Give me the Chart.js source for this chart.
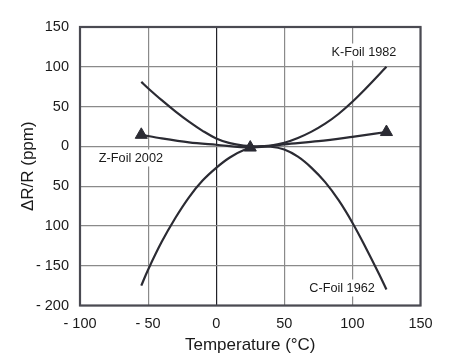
<!DOCTYPE html>
<html>
<head>
<meta charset="utf-8">
<script src="https://cdn.jsdelivr.net/npm/chart.js@4/dist/chart.umd.min.js"></script>
<style>
  html, body { margin: 0; padding: 0; background: #ffffff; }
  #wrap { width: 468px; height: 357px; }
</style>
</head>
<body>
<div id="wrap"><canvas id="c" width="468" height="357"></canvas></div>
<script>
// ---- Data ----
const kFoilTemps = [-55, -50, -40, -30, -20, -10, 0, 10, 20, 30, 40, 50, 60, 70, 80, 90, 100, 110, 120, 125];
const kFoilPpm   = [81, 73, 58, 44, 31, 19.5, 10, 4, 1, 0, 1, 4.5, 10.5, 18.5, 28.5, 41, 56, 73, 91, 100];

const cFoilTemps = [-55, -50, -40, -30, -20, -10, 0, 10, 20, 30, 40, 50, 60, 70, 80, 90, 100, 110, 120, 125];
const cFoilPpm   = [-175, -155, -120, -90, -64, -43, -27, -14, -5, -0.5, -0.5, -4, -13, -27, -45, -68, -96, -128, -162, -180];

const zFoilTemps = [-55, -40, -20, 0, 25, 40, 50, 75, 100, 125];
const zFoilPpm   = [14.5, 10, 5, 2, -1.5, 0.5, 2.5, 6.5, 12, 18];
const zFoilMarkerTemps = [-55, 25, 125];

const seriesNames = ['K-Foil 1982', 'C-Foil 1962', 'Z-Foil 2002'];
// label anchor positions in data units (temperature, ppm)
const labelTemps = [108.5, 92.4, -62.6];
const labelPpm   = [118.6, -178, -14.6];

const xTickValues = [-100, -50, 0, 50, 100, 150];
const xTickLabels = ['- 100', '- 50', '0', '50', '100', '150'];
const yTickValues = [-200, -150, -100, -50, 0, 50, 100, 150];
const yTickLabels = ['- 200', '- 150', '100', '50', '0', '50', '100', '150'];

const xTitle = 'Temperature (°C)';
const yTitle = 'ΔR/R (ppm)';

// ---- Chart ----
const FONT = "'Liberation Sans', Arial, Helvetica, sans-serif";
const LINE = '#2b2b33';

function pts(xs, ys) { return xs.map((x, i) => ({ x: x, y: ys[i] })); }

const frameAndLabels = {
  id: 'frameAndLabels',
  beforeDatasetsDraw(chart) {
    const { ctx, chartArea: a, scales } = chart;
    ctx.save();
    ctx.font = '12.7px ' + FONT;
    ctx.textAlign = 'center';
    ctx.textBaseline = 'middle';
    seriesNames.forEach((name, i) => {
      const px = scales.x.getPixelForValue(labelTemps[i]);
      const py = scales.y.getPixelForValue(labelPpm[i]);
      const w = ctx.measureText(name).width;
      ctx.fillStyle = '#ffffff';
      ctx.fillRect(px - w / 2 - 3, py - 8.5, w + 6, 17);
      ctx.fillStyle = '#1a1a1a';
      ctx.fillText(name, px, py + 0.5);
    });
    ctx.strokeStyle = '#4a4a52';
    ctx.lineWidth = 2.2;
    ctx.strokeRect(a.left, a.top, a.right - a.left, a.bottom - a.top);
    ctx.restore();
  }
};

new Chart(document.getElementById('c'), {
  type: 'line',
  data: {
    datasets: [
      {
        label: seriesNames[0],
        data: pts(kFoilTemps, kFoilPpm),
        borderColor: LINE, borderWidth: 2.2,
        pointRadius: 0, tension: 0.4, fill: false
      },
      {
        label: seriesNames[1],
        data: pts(cFoilTemps, cFoilPpm),
        borderColor: LINE, borderWidth: 2.2,
        pointRadius: 0, tension: 0.4, fill: false
      },
      {
        label: seriesNames[2],
        data: pts(zFoilTemps, zFoilPpm),
        borderColor: LINE, borderWidth: 2.2,
        backgroundColor: LINE,
        pointStyle: 'triangle',
        pointRadius: (c) => (c.raw && zFoilMarkerTemps.includes(c.raw.x)) ? 7 : 0,
        pointBorderWidth: 1,
        pointBorderColor: LINE,
        pointBackgroundColor: LINE,
        cubicInterpolationMode: 'monotone', fill: false
      }
    ]
  },
  options: {
    responsive: false,
    animation: false,
    devicePixelRatio: 1,
    layout: { padding: { top: 27, right: 47.5, left: 0, bottom: 0 } },
    plugins: { legend: { display: false }, tooltip: { enabled: false } },
    scales: {
      x: {
        type: 'linear',
        min: -100, max: 150,
        afterBuildTicks: (s) => { s.ticks = xTickValues.map(v => ({ value: v })); },
        afterFit: (s) => { s.height = 51.5; },
        grid: {
          drawTicks: false,
          lineWidth: 1.2,
          color: (c) => (c.tick && c.tick.value === 0) ? '#222228' : '#8a8a8a'
        },
        border: { display: false },
        ticks: {
          autoSkip: false, maxRotation: 0, padding: 10,
          color: '#1a1a1a',
          font: { family: FONT, size: 14.5 },
          callback: (v) => { const i = xTickValues.indexOf(v); return i >= 0 ? xTickLabels[i] : ''; }
        },
        title: {
          display: true, text: xTitle, color: '#1a1a1a',
          font: { family: FONT, size: 17, lineHeight: 1.2 },
          padding: { top: 0, bottom: 1.1 }
        }
      },
      y: {
        type: 'linear',
        min: -200, max: 150,
        afterBuildTicks: (s) => { s.ticks = yTickValues.map(v => ({ value: v })); },
        afterFit: (s) => { s.width = 80; },
        grid: { drawTicks: false, lineWidth: 1.2, color: '#8a8a8a' },
        border: { display: false },
        ticks: {
          autoSkip: false, padding: 11,
          color: '#1a1a1a',
          font: { family: FONT, size: 14.5 },
          callback: (v) => { const i = yTickValues.indexOf(v); return i >= 0 ? yTickLabels[i] : ''; }
        },
        title: {
          display: true, text: yTitle, color: '#1a1a1a',
          font: { family: FONT, size: 17, lineHeight: 1.2 },
          padding: { top: 17.8, bottom: 0 }
        }
      }
    }
  },
  plugins: [frameAndLabels]
});
</script>
</body>
</html>
